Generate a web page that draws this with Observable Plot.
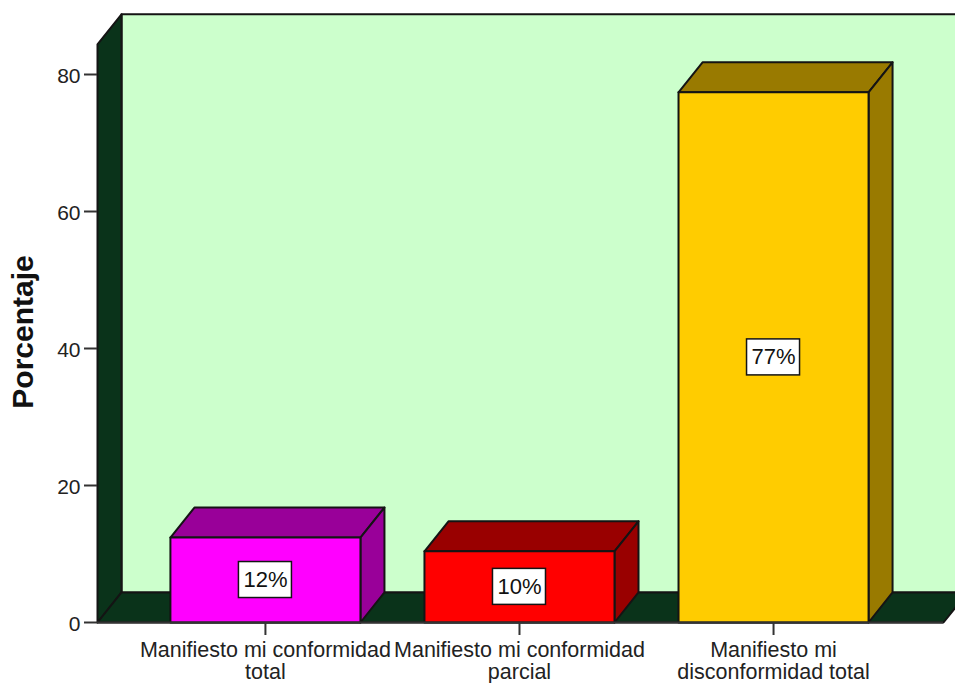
<!DOCTYPE html>
<html><head><meta charset="utf-8">
<script src="https://cdn.jsdelivr.net/npm/d3@7"></script>
<script src="https://cdn.jsdelivr.net/npm/@observablehq/plot@0.6"></script>
<style>html,body{margin:0;padding:0;background:#fff;overflow:hidden}svg{display:block}</style>
</head><body><div id="c"></div>
<script>
const categories = ["Manifiesto mi conformidad\ntotal","Manifiesto mi conformidad\nparcial","Manifiesto mi\ndisconformidad total"];
const values = [12.4, 10.4, 77.4];
const valueLabels = ["12%","10%","77%"];
const frontColors = ["#ff00ff","#ff0000","#ffcc00"];
const sideColors = ["#990099","#990000","#997a00"];
const yTicks = [0,20,40,60,80];
const positions = [0,1,2];
const barHalf = 0.374, depthX = 0.0945, depthY = 4.38;
const xMin = -0.661, xMax = 2.669, yTop = 84.4;
const ink = "#141414";

function poly(id, fill, pts){ return pts.concat([pts[0]]).map(([x,y])=>({id,fill,x,y})); }
const shapes = [
  ...poly("wall","#ccffcc",[[xMin+depthX,depthY],[xMin+depthX,yTop+depthY],[xMax+depthX*2,yTop+depthY],[xMax+depthX*2,depthY]]),
  ...poly("left","#0a331a",[[xMin,0],[xMin,yTop],[xMin+depthX,yTop+depthY],[xMin+depthX,depthY]]),
  ...poly("floor","#0a331a",[[xMin,0],[xMin+depthX,depthY],[xMax+depthX,depthY],[xMax,0]])
];
positions.forEach(i=>{
  const l=i-barHalf, r=i+barHalf, v=values[i];
  shapes.push(...poly("top"+i,sideColors[i],[[l,v],[l+depthX,v+depthY],[r+depthX,v+depthY],[r,v]]));
  shapes.push(...poly("side"+i,sideColors[i],[[r,0],[r,v],[r+depthX,v+depthY],[r+depthX,depthY]]));
  shapes.push(...poly("front"+i,frontColors[i],[[l,0],[l,v],[r,v],[r,0]]));
});
const labels = positions.map(i=>({x:i,y:values[i]/2,t:valueLabels[i]}));

const chart = Plot.plot({
  width:955, height:683,
  marginLeft:97, marginRight:12, marginTop:0, marginBottom:61,
  style:{background:"#fff",fontFamily:"'Liberation Sans',Arial,sans-serif",color:"#222"},
  x:{domain:[xMin,xMax],range:[97,943],label:null},
  y:{domain:[0,80],range:[622,74],label:null},
  marks:[
    Plot.line(shapes,{x:"x",y:"y",z:"id",fill:"fill",stroke:ink,strokeWidth:2,curve:"linear",strokeLinejoin:"round"}),
    Plot.ruleY(yTicks,{x1:xMin,x2:xMin,insetLeft:-13,stroke:"#333",strokeWidth:2}),
    Plot.axisY({ticks:yTicks,tickSize:0,tickPadding:17,fontSize:21,dy:2,label:null,tickFormat:d=>String(d)}),
    Plot.axisX({ticks:positions,tickSize:13,tickPadding:5,fontSize:21.5,stroke:"#333",strokeWidth:2,label:null,lineHeight:1.05,tickFormat:i=>categories[i],textOverflow:null}),
    Plot.ruleY([0],{x1:xMin,x2:xMax,stroke:"#333",strokeWidth:2}),
    Plot.rect(labels,{x1:"x",x2:"x",y1:"y",y2:"y",insetLeft:-26.5,insetRight:-26.5,insetTop:-18,insetBottom:-18,fill:"#fff",stroke:ink,strokeWidth:1.5}),
    Plot.text(labels,{x:"x",y:"y",text:"t",fontSize:22,fill:"#111"}),
    Plot.text(["Porcentaje"],{frameAnchor:"left",textAnchor:"middle",dx:-74,dy:20.5,rotate:-90,fontSize:30,fontWeight:"bold",fill:"#111"})
  ]
});
document.getElementById("c").appendChild(chart);
</script></body></html>
